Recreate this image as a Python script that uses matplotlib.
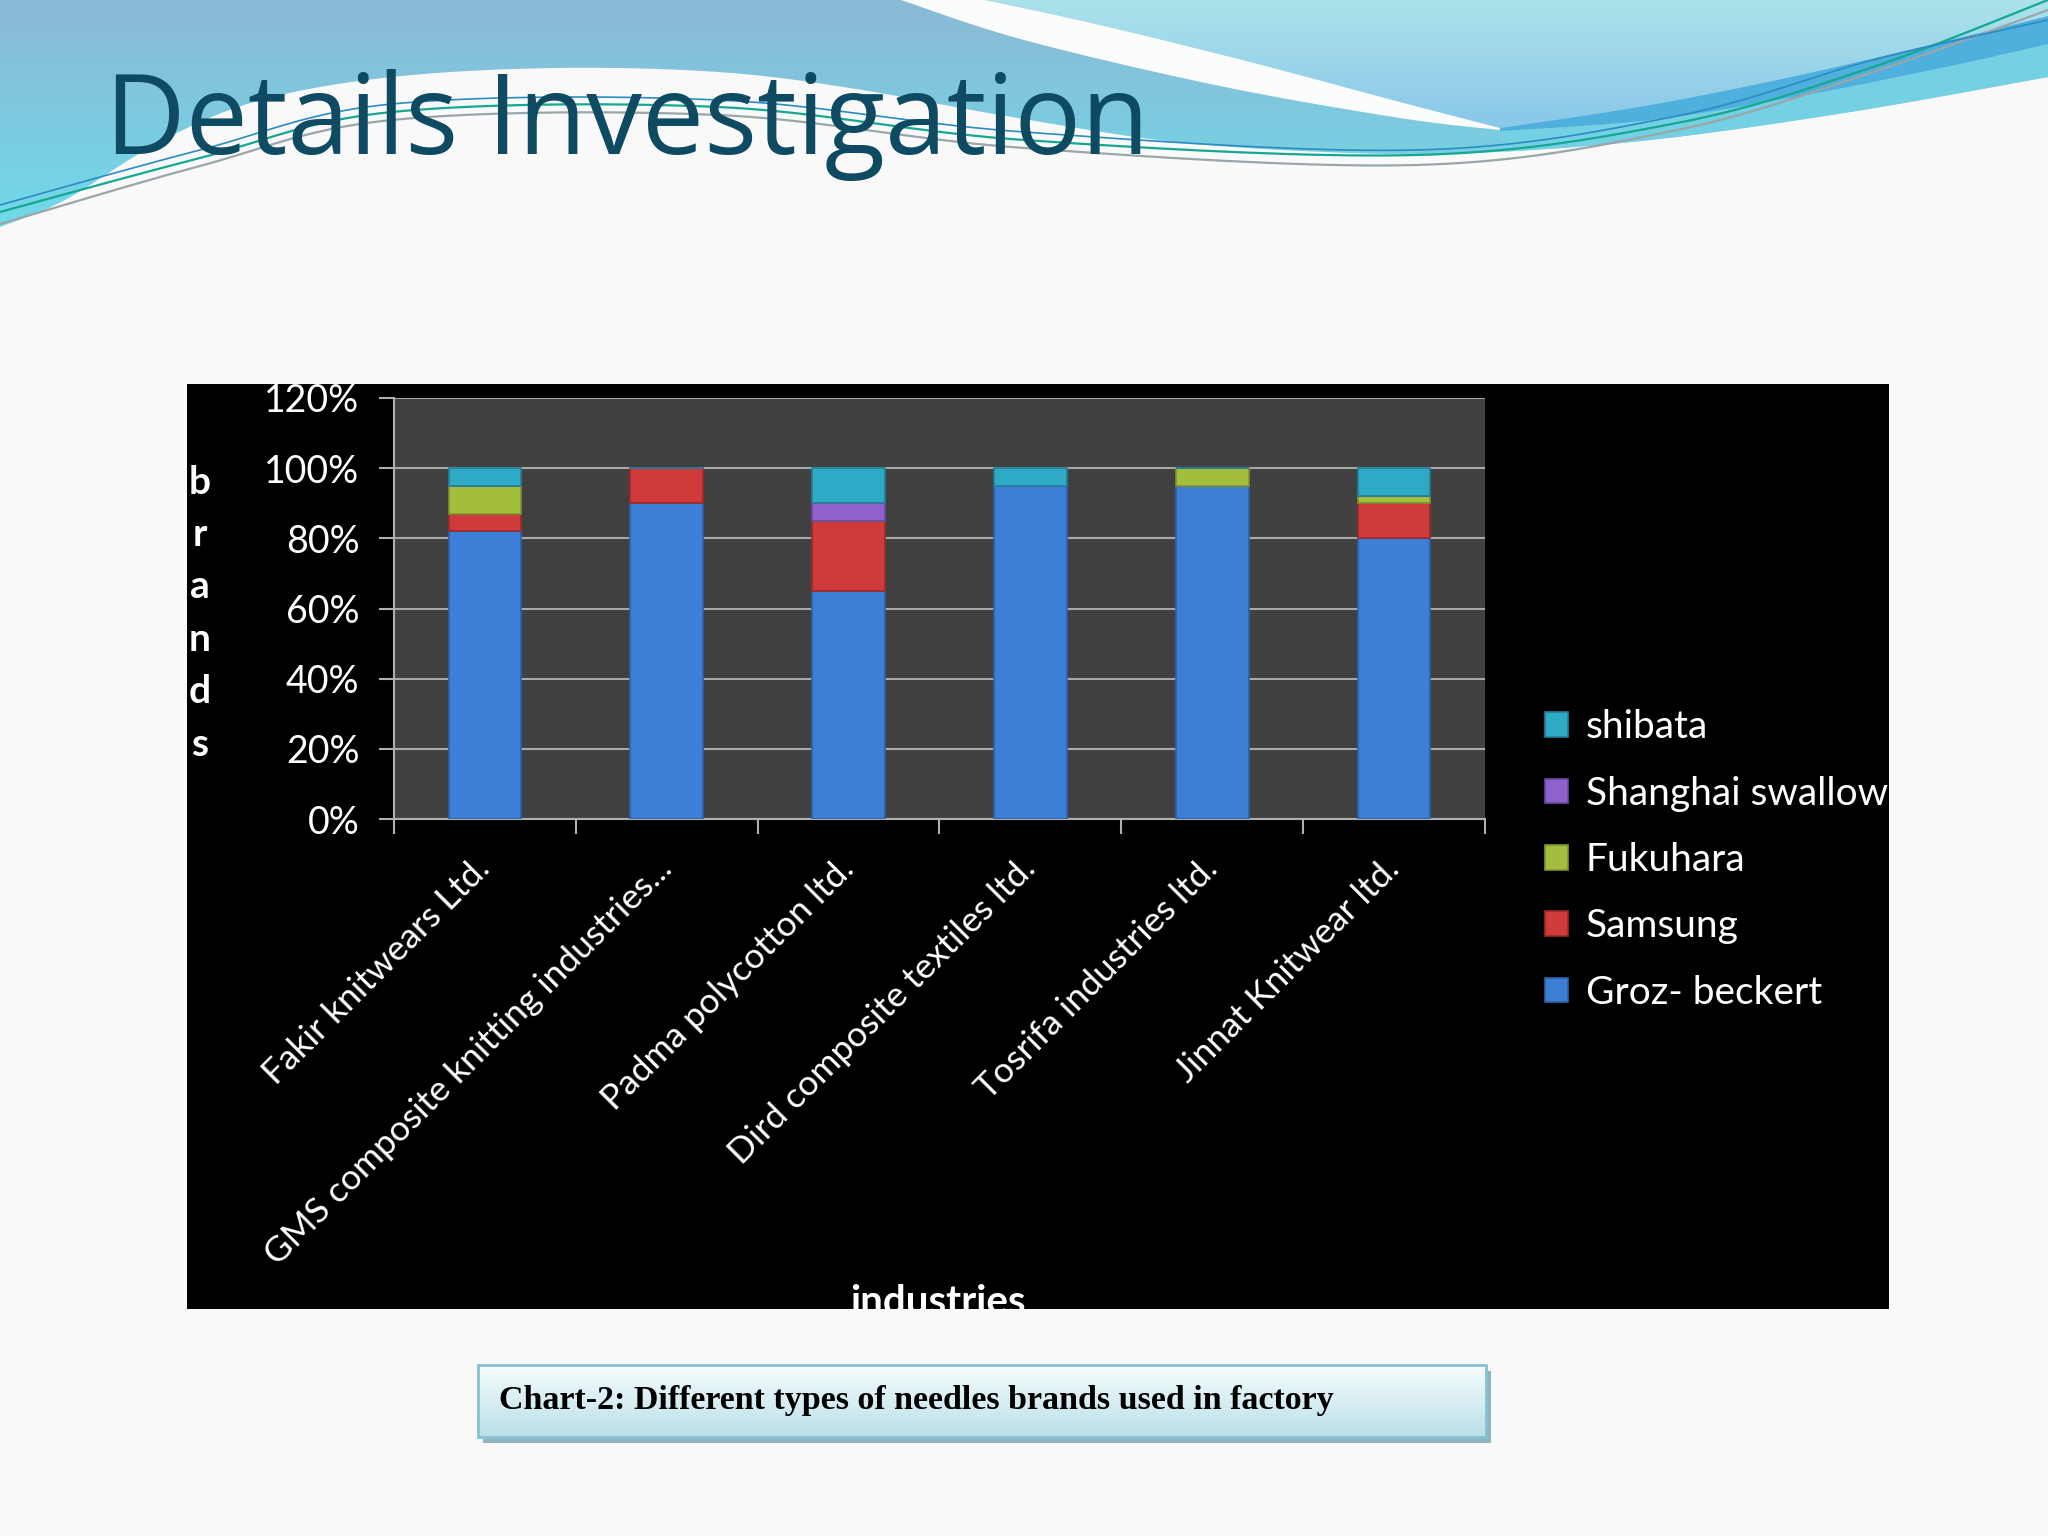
import numpy as np
import matplotlib
matplotlib.use('Agg')
import matplotlib.pyplot as plt
from matplotlib.patches import Rectangle, Polygon
from matplotlib.colors import to_rgb

# ---------------- data ----------------
industries = ["Fakir knitwears Ltd.", "GMS composite knitting industries...",
              "Padma polycotton ltd.", "Dird composite textiles ltd.",
              "Tosrifa industries ltd.", "Jinnat Knitwear ltd."]
brands = ["Groz- beckert", "Samsung", "Fukuhara", "Shanghai swallow", "shibata"]
groz_beckert = [0.82, 0.90, 0.65, 0.95, 0.95, 0.80]
samsung = [0.05, 0.10, 0.20, 0.00, 0.00, 0.10]
fukuhara = [0.08, 0.00, 0.00, 0.00, 0.05, 0.02]
shanghai_swallow = [0.00, 0.00, 0.05, 0.00, 0.00, 0.00]
shibata = [0.05, 0.00, 0.10, 0.05, 0.00, 0.08]
y_ticks = [0, 0.2, 0.4, 0.6, 0.8, 1.0, 1.2]
y_tick_labels = ["0%", "20%", "40%", "60%", "80%", "100%", "120%"]
title = "Details Investigation"
caption = "Chart-2: Different types of needles brands used in factory"

series = [groz_beckert, samsung, fukuhara, shanghai_swallow, shibata]
colors = ["#3d7fd6", "#cf3b3b", "#a2be3c", "#8e62cc", "#2ea9c6"]
edge_colors = ["#2d62a8", "#9e2a2a", "#7d9430", "#6a489c", "#21809a"]

W, H = 2048, 1536
fig = plt.figure(figsize=(W / 100, H / 100), dpi=100, facecolor="#f9f9f9")

# ---------------- background / slide decoration ----------------
bg = fig.add_axes([0, 0, 1, 1], zorder=0)
bg.set_xlim(0, W)
bg.set_ylim(H, 0)
bg.axis("off")


def smooth(pts, n=20):
    p = np.array(pts, dtype=float)
    p = np.vstack([p[0], p, p[-1]])
    out = []
    for i in range(1, len(p) - 2):
        p0, p1, p2, p3 = p[i - 1], p[i], p[i + 1], p[i + 2]
        for t in np.linspace(0, 1, n, endpoint=False):
            t2, t3 = t * t, t * t * t
            out.append(0.5 * ((2 * p1) + (-p0 + p2) * t +
                              (2 * p0 - 5 * p1 + 4 * p2 - p3) * t2 +
                              (-p0 + 3 * p1 - 3 * p2 + p3) * t3))
    out.append(p[-2])
    return np.array(out)


def grad_fill(poly_pts, c_top, c_bot, y0, y1, z):
    patch = Polygon(poly_pts, closed=True, facecolor="none", edgecolor="none")
    bg.add_patch(patch)
    ct = np.array(to_rgb(c_top))
    cb = np.array(to_rgb(c_bot))
    tt = np.linspace(0, 1, 200)[:, None]
    g = np.repeat((ct[None, :] * (1 - tt) + cb[None, :] * tt)[:, None, :], 2, axis=1)
    im = bg.imshow(g, extent=(0, W, y1, y0), aspect="auto", zorder=z)
    im.set_clip_path(patch)


C1 = smooth([(0, 227), (65, 200), (163, 140), (261, 100), (392, 77), (555, 68),
             (718, 72), (850, 88), (1000, 115), (1175, 142), (1350, 153),
             (1475, 153), (1650, 140), (1850, 112), (2048, 77)])
header = np.vstack([C1, [(2048, 0), (0, 0)]])
grad_fill(header, "#8bb9d5", "#6fdbea", 0, 235, 1)

# right-hand bands
B_up = smooth([(1500, 128), (1650, 105), (1800, 75), (1950, 40), (2048, 16)])
B_lo = smooth([(1500, 131), (1650, 120), (1800, 96), (1950, 66), (2048, 44)])
C1r = C1[C1[:, 0] >= 1500]
cyan_band = np.vstack([B_lo, C1r[::-1]])
bg.add_patch(Polygon(cyan_band, closed=True, facecolor="#74d1e3", edgecolor="none", zorder=2))
blue_band = np.vstack([B_up, B_lo[::-1]])
bg.add_patch(Polygon(blue_band, closed=True, facecolor="#4fb0de", edgecolor="none", zorder=2))

# light region upper right + white swoosh
S_lo = smooth([(901, 0), (1024, 40), (1220, 86), (1400, 118), (1500, 130)])
S_up = smooth([(985, 0), (1100, 25), (1250, 62), (1400, 102), (1500, 128)])
light = np.vstack([S_up, B_up, [(2048, 0)]])
grad_fill(light, "#abe2e9", "#88c6ea", 0, 135, 2)
swoosh = np.vstack([S_lo, S_up[::-1]])
bg.add_patch(Polygon(swoosh, closed=True, facecolor="#fbfdfd", edgecolor="none", zorder=3))

# thin decorative lines
L1 = smooth([(0, 212), (200, 158), (392, 112), (718, 107), (1024, 140), (1416, 155), (1677, 123), (1873, 67), (2048, 0)])
L2 = smooth([(0, 224), (200, 166), (392, 120), (718, 115), (1024, 148), (1416, 165), (1677, 130), (1873, 72), (2048, 10)])
L3 = smooth([(0, 205), (200, 150), (392, 104), (718, 100), (1024, 132), (1416, 150), (1677, 116), (1873, 60), (2048, 20)])
bg.plot(L1[:, 0], L1[:, 1], color="#15a890", lw=1.6, zorder=4)
bg.plot(L2[:, 0], L2[:, 1], color="#9aa6aa", lw=1.6, zorder=4)
bg.plot(L3[:, 0], L3[:, 1], color="#2a8cc0", lw=1.2, zorder=4)

bg.text(105, 154, title, fontsize=80, color="#0e4a62", family="Open Sans",
        ha="left", va="baseline", zorder=5)

# black chart area
black = Rectangle((187, 384), 1702, 925, facecolor="black", edgecolor="none", zorder=5)
bg.add_patch(black)

# caption box
bg.add_patch(Rectangle((483, 1371), 1008, 72, facecolor="#8fb2bd", edgecolor="none", zorder=5))
capfill = [(478, 1365), (1486, 1365), (1486, 1437), (478, 1437)]
grad_fill(capfill, "#f7fcfd", "#b9e0e8", 1365, 1437, 6)
bg.add_patch(Rectangle((478, 1365), 1008, 72, facecolor="none", edgecolor="#86c2d2",
                       lw=2, zorder=7))
bg.text(499, 1400, caption, fontsize=24.5, fontweight="bold", family="Liberation Serif",
        color="black", ha="left", va="center", zorder=8)

# ---------------- chart ----------------
ax = fig.add_axes([394 / W, 1 - 819 / H, (1485 - 394) / W, (819 - 398) / H], zorder=2)
ax.set_facecolor("#404040")
x = np.arange(len(industries))
bottom = np.zeros(len(industries))
handles = []
for vals, col, ecol, name in zip(series, colors, edge_colors, brands):
    b = ax.bar(x, vals, width=0.4, bottom=bottom, color=col, edgecolor=ecol,
               linewidth=1.2, label=name, zorder=3)
    handles.append(b)
    bottom += np.array(vals)

ax.set_xlim(-0.5, len(industries) - 0.5)
ax.set_ylim(0, 1.2)
ax.set_yticks(y_ticks)
ax.set_yticklabels(y_tick_labels)
ax.yaxis.grid(True, color="#a8a8a8", lw=1.5, zorder=1)
ax.set_axisbelow(True)
ax.set_xticks(x)
ax.set_xticklabels(industries, rotation=45, ha="right", va="center",
                   rotation_mode="anchor")
ax.set_xticks(np.arange(-0.5, len(industries), 1), minor=True)
ax.tick_params(axis="x", which="major", length=0, pad=32, colors="white", labelsize=25.5)
ax.tick_params(axis="x", which="minor", length=11, color="#b0b0b0", width=1.5, direction="out")
ax.tick_params(axis="y", length=11, color="#b0b0b0", width=1.5, pad=14,
               labelcolor="white", labelsize=27)
for lab in ax.get_xticklabels() + ax.get_yticklabels():
    lab.set_family("Lato")
for s in ["top", "right"]:
    ax.spines[s].set_visible(False)
for s in ["left", "bottom"]:
    ax.spines[s].set_color("#b0b0b0")
    ax.spines[s].set_linewidth(1.5)

leg = fig.legend(handles[::-1], brands[::-1], loc="center left",
                 bbox_to_anchor=(1545 / W, 1 - 860 / H), frameon=False,
                 prop={"family": "Lato", "size": 28}, labelcolor="white",
                 handlelength=0.6, handleheight=0.6, handletextpad=0.45,
                 labelspacing=0.78, borderpad=0, borderaxespad=0)
leg.set_zorder(6)

fig.text(200 / W, 1 - 613 / H, "b\nr\na\nn\nd\ns", color="white", fontsize=28,
         fontweight="bold", family="Lato", ha="center", va="center",
         linespacing=1.6, zorder=6)
ind = fig.text(938 / W, 1 - 1284 / H, "industries", color="white", fontsize=29,
               fontweight="bold", family="Lato", ha="center", va="top", zorder=6)
ind.set_clip_path(black)

fig.savefig("out.png", dpi=100, facecolor=fig.get_facecolor())
